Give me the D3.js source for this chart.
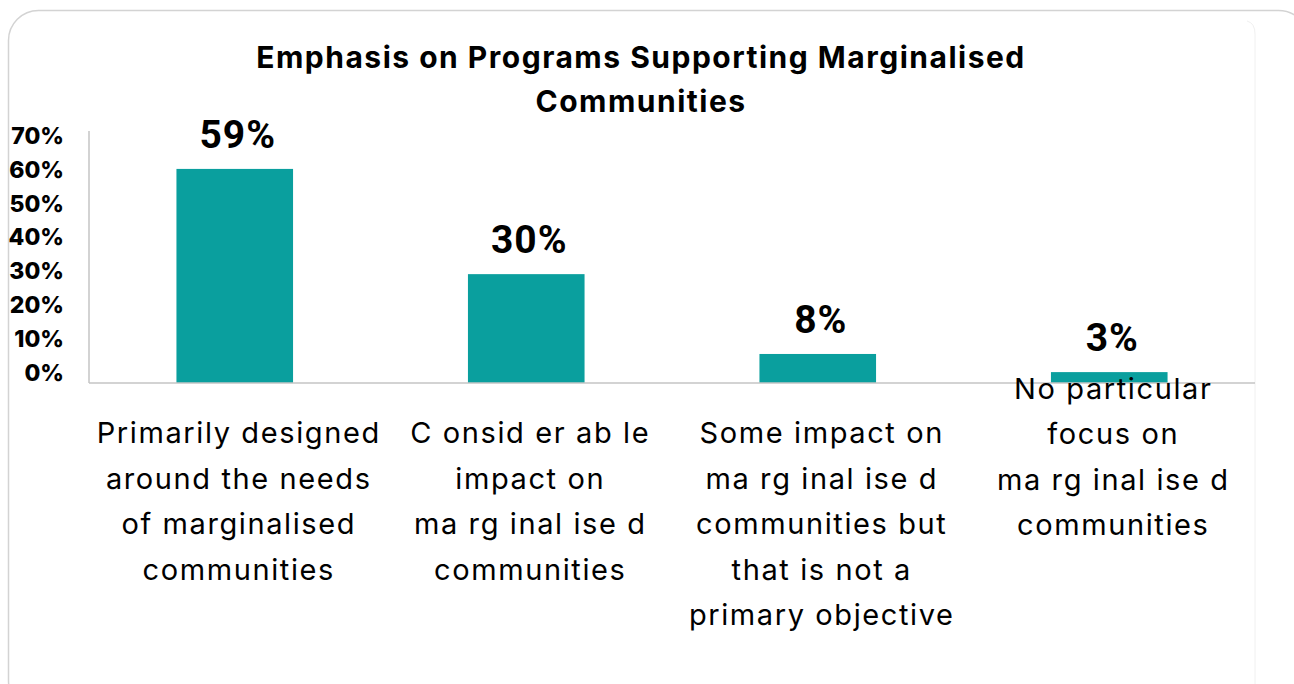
<!DOCTYPE html>
<html>
<head>
<meta charset="utf-8">
<script src="https://cdn.jsdelivr.net/npm/d3@7"></script>
<style>
  html, body { margin: 0; padding: 0; background: #fff; }
  svg { display: block; }
</style>
</head>
<body>
<svg id="chart" width="1294" height="684"></svg>
<script>
// Chart data
const titleLines = ["Emphasis on Programs Supporting Marginalised", "Communities"];
const categories = [
  ["Primarily designed", "around the needs", "of marginalised", "communities"],
  ["C onsid er ab le", "impact on", "ma rg inal ise d", "communities"],
  ["Some impact on", "ma rg inal ise d", "communities but", "that is not a", "primary objective"],
  ["No particular", "focus on", "ma rg inal ise d", "communities"]
];
const values = [59, 30, 8, 3];
const yTicks = [0, 10, 20, 30, 40, 50, 60, 70];

const svg = d3.select("#chart");

// Card background
svg.append("rect")
  .attr("x", 8.5).attr("y", 10.5)
  .attr("width", 1300).attr("height", 700)
  .attr("rx", 30).attr("ry", 30)
  .attr("fill", "#fff")
  .attr("stroke", "#d3d3d3")
  .attr("stroke-width", 1.5);

// faint inner panel edge on the right
svg.append("path")
  .attr("d", "M1247,21 Q1255,23 1255,34 L1255,684")
  .attr("fill", "none")
  .attr("stroke", "#f0f0f0")
  .attr("stroke-width", 1);

const plot = { left: 89, right: 1255, top: 129, bottom: 383 };

const x = d3.scaleBand()
  .domain(d3.range(categories.length))
  .range([plot.left, plot.right])
  .paddingInner(0.6)
  .paddingOuter(0.3);

const y = d3.scaleLinear()
  .domain([0, 70])
  .range([plot.bottom, plot.top]);

// Title
const title = svg.append("text")
  .attr("x", 641)
  .attr("text-anchor", "middle")
  .style("font-family", "Inter, 'Open Sans', sans-serif")
  .style("font-weight", 700)
  .style("font-size", "30px")
  .style("letter-spacing", "1.5px")
  .attr("fill", "#000");
titleLines.forEach((t, i) => {
  title.append("tspan")
    .attr("x", 641)
    .attr("y", 68 + i * 44)
    .text(t);
});

// Tick labels (set slightly tighter than the bar scale)
const yLab = d3.scaleLinear().domain([0, 70]).range([373, 136]);
const yAxis = svg.append("g")
  .attr("transform", `translate(64,0)`)
  .call(d3.axisLeft(yLab).tickValues(yTicks).tickSize(0).tickPadding(0).tickFormat(d => d + "%"));
yAxis.select(".domain").remove();
yAxis.selectAll("text")
  .style("font-family", "Inter, 'Open Sans', sans-serif")
  .style("font-weight", 800)
  .style("font-size", "23px")
  .attr("fill", "#000");

// Vertical axis line
svg.append("line")
  .attr("x1", plot.left).attr("x2", plot.left)
  .attr("y1", y(70) + 2).attr("y2", plot.bottom)
  .attr("stroke", "#c4c4c4").attr("stroke-width", 1.5);

// Bars
svg.append("g").selectAll("rect")
  .data(values)
  .join("rect")
  .attr("x", (d, i) => x(i))
  .attr("width", x.bandwidth())
  .attr("y", d => y(d))
  .attr("height", d => y(0) - y(d))
  .attr("fill", "#0a9f9e");

// Baseline
svg.append("line")
  .attr("x1", plot.left).attr("x2", plot.right)
  .attr("y1", plot.bottom).attr("y2", plot.bottom)
  .attr("stroke", "#c4c4c4").attr("stroke-width", 1.5);

// Value labels
svg.append("g").selectAll("text")
  .data(values)
  .join("text")
  .attr("x", (d, i) => x(i) + x.bandwidth() / 2 + 3)
  .attr("y", d => y(d) - 21)
  .attr("text-anchor", "middle")
  .style("font-family", "Roboto, sans-serif")
  .style("font-weight", 700)
  .style("font-size", "39px")
  .style("letter-spacing", "1px")
  .attr("fill", "#000")
  .text(d => d + "%");

// Category labels; the last one starts a line higher, running over the axis
const lineH = 45.5;
const catG = svg.append("g");
categories.forEach((lines, i) => {
  const startY = 443 - (i === categories.length - 1 ? lineH - 1 : 0);
  const cx = x(i) + x.bandwidth() / 2 + 4;
  const t = catG.append("text")
    .attr("text-anchor", "middle")
    .style("font-family", "Inter, 'Open Sans', sans-serif")
    .style("font-weight", 400)
    .style("font-size", "29px")
    .style("letter-spacing", "1.6px")
    .attr("fill", "#000");
  lines.forEach((ln, j) => {
    t.append("tspan")
      .attr("x", cx)
      .attr("y", startY + j * lineH)
      .text(ln);
  });
});
</script>
</body>
</html>
